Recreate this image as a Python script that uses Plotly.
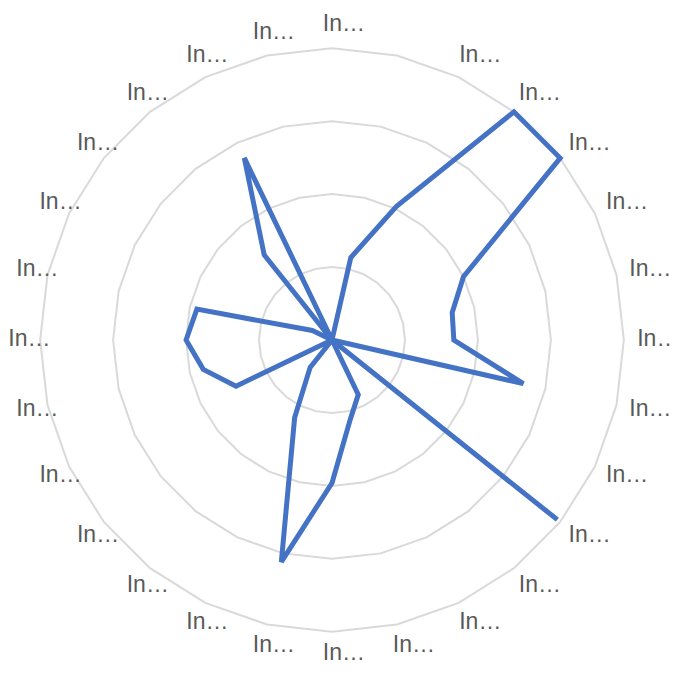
import plotly.graph_objects as go

categories = ["Indicator %02d" % i for i in range(1, 29)]
tick_labels = ["In…", "", "In…", "In…", "In…", "In…", "In…", "In…", "In…", "In…",
               "In…", "In…", "In…", "In…", "In…", "In…", "In…", "In…", "In…", "In…",
               "In…", "In…", "In…", "In…", "In…", "In…", "In…", "In…"]
values = [0, 1.16, 2.03, 4.0, 4.0, 2.0, 1.69, 1.67, 2.69, 0,
          3.95, 0, 0.83, 1.12, 1.96, 3.12, 1.18, 0.48, 0, 1.46,
          1.81, 2.0, 1.9, 0.3, 0, 1.49, 2.77, 0]

R_VIEW = 4.4      # radial extent of the polar area (leaves room for labels)
LABEL_R = 4.31
PAD = "\u00a0" * 3 + "\u2009"

fig = go.Figure()
fig.add_trace(go.Scatterpolar(
    r=values + values[:1],
    theta=categories + categories[:1],
    mode="lines",
    line=dict(color="#4472C4", width=5),
    hoverinfo="skip",
))
# category labels, placed through the polar scales just outside the outer ring
fig.add_trace(go.Scatterpolar(
    r=[LABEL_R] * len(categories),
    theta=categories,
    mode="text",
    text=[(PAD + t) if t else "" for t in tick_labels],
    textposition="middle center",
    textfont=dict(family="Liberation Sans, Arial", size=23, color="#595959"),
    cliponaxis=False,
    hoverinfo="skip",
))

fig.update_layout(
    width=678, height=673,
    margin=dict(l=3, r=33, t=11, b=20),
    paper_bgcolor="white",
    plot_bgcolor="white",
    showlegend=False,
    polar=dict(
        bgcolor="white",
        gridshape="linear",
        radialaxis=dict(range=[0, R_VIEW], tickvals=[1, 2, 3, 4], showticklabels=False,
                        ticks="", showline=False, gridcolor="#d9d9d9", gridwidth=1.5),
        angularaxis=dict(direction="clockwise", rotation=90, type="category",
                         categoryarray=categories, showticklabels=False, ticks="",
                         showgrid=False, showline=False),
    ),
)

fig.write_html("out.html")
